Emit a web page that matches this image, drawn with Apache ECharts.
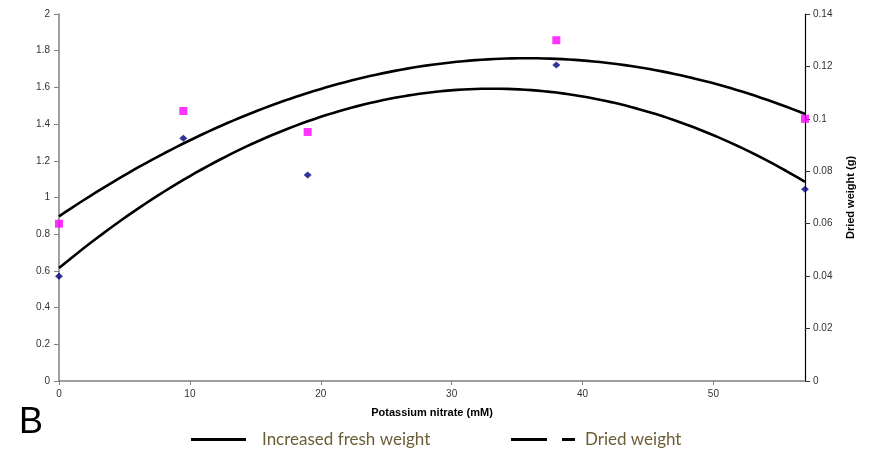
<!DOCTYPE html>
<html>
<head>
<meta charset="utf-8">
<script src="https://cdn.jsdelivr.net/npm/echarts@6/dist/echarts.min.js"></script>
<style>
  html, body { margin: 0; padding: 0; background: #fff; }
  #chart { width: 882px; height: 454px; }
</style>
</head>
<body>
<div id="chart"></div>
<script>
// Potassium nitrate concentrations (mM)
const nitrate = [0, 9.5, 19, 38, 57];
// Increased fresh weight (left axis)
const freshWeight = [0.571, 1.323, 1.123, 1.722, 1.045];
// Dried weight, g (right axis)
const driedWeight = [0.060, 0.103, 0.095, 0.130, 0.100];

const freshTicks = { min: 0, max: 2, interval: 0.2 };
const driedTicks = { min: 0, max: 0.14, interval: 0.02 };
const nitrateTicks = { min: 0, max: 57, interval: 10 };

// Least-squares second-order polynomial trendline
function quadFit(xs, ys) {
  let s = [0, 0, 0, 0, 0], t = [0, 0, 0];
  xs.forEach((x, i) => {
    let p = 1;
    for (let k = 0; k < 5; k++) { s[k] += p; if (k < 3) t[k] += p * ys[i]; p *= x; }
  });
  const A = [[s[0], s[1], s[2], t[0]], [s[1], s[2], s[3], t[1]], [s[2], s[3], s[4], t[2]]];
  for (let c = 0; c < 3; c++) {
    for (let r = c + 1; r < 3; r++) {
      const f = A[r][c] / A[c][c];
      for (let k = c; k < 4; k++) A[r][k] -= f * A[c][k];
    }
  }
  const b = [0, 0, 0];
  for (let r = 2; r >= 0; r--) {
    let v = A[r][3];
    for (let k = r + 1; k < 3; k++) v -= A[r][k] * b[k];
    b[r] = v / A[r][r];
  }
  return x => b[0] + b[1] * x + b[2] * x * x;
}
function trend(xs, ys) {
  const f = quadFit(xs, ys);
  const lo = xs[0], hi = xs[xs.length - 1];
  const out = [];
  for (let i = 0; i <= 120; i++) { const x = lo + (hi - lo) * i / 120; out.push([x, f(x)]); }
  return out;
}
const pairs = (xs, ys) => xs.map((x, i) => [x, ys[i]]);

const labelStyle = { color: '#333', fontFamily: 'Liberation Sans, Arial, sans-serif', fontSize: 10 };

const chart = echarts.init(document.getElementById('chart'), null, { renderer: 'canvas' });
chart.setOption({
  animation: false,
  backgroundColor: '#fff',
  grid: { left: 59, right: 77, top: 14, bottom: 73 },
  xAxis: {
    type: 'value', min: nitrateTicks.min, max: nitrateTicks.max, interval: nitrateTicks.interval,
    name: 'Potassium nitrate (mM)', nameLocation: 'middle', nameGap: 26,
    nameTextStyle: { color: '#000', fontFamily: 'Liberation Sans, Arial, sans-serif', fontSize: 11, fontWeight: 'bold' },
    axisLine: { lineStyle: { color: '#808080', width: 1.5 } },
    axisTick: { length: 4, lineStyle: { color: '#808080' } },
    axisLabel: Object.assign({ margin: 8, showMaxLabel: false }, labelStyle),
    splitLine: { show: false }
  },
  yAxis: [
    {
      type: 'value', position: 'left', min: freshTicks.min, max: freshTicks.max, interval: freshTicks.interval,
      axisLine: { show: true, lineStyle: { color: '#808080', width: 1.5 } },
      axisTick: { show: true, length: 5, lineStyle: { color: '#808080' } },
      axisLabel: Object.assign({ margin: 9, formatter: v => String(+v.toFixed(2)) }, labelStyle),
      splitLine: { show: false }
    },
    {
      type: 'value', position: 'right', min: driedTicks.min, max: driedTicks.max, interval: driedTicks.interval,
      name: 'Dried weight (g)', nameLocation: 'middle', nameRotate: 90, nameGap: 40,
      nameTextStyle: { color: '#000', fontFamily: 'Liberation Sans, Arial, sans-serif', fontSize: 11, fontWeight: 'bold', padding: [0, 0, 14, 0] },
      axisLine: { show: true, lineStyle: { color: '#000', width: 1.2 } },
      axisTick: { show: true, inside: false, length: 5, lineStyle: { color: '#333' } },
      axisLabel: Object.assign({ margin: 8, formatter: v => String(+v.toFixed(2)) }, labelStyle),
      splitLine: { show: false }
    }
  ],
  legend: [
    {
      left: 191, top: 431, padding: 0, itemWidth: 55, itemHeight: 3,
      data: [{ name: 'Increased fresh weight', icon: 'rect' }],
      textStyle: { color: '#6b5d35', fontFamily: 'Lato, sans-serif', fontSize: 17, padding: [0, 0, 0, 11] }
    },
    {
      left: 511, top: 431, padding: 0, itemWidth: 64, itemHeight: 3,
      data: [{ name: 'Dried weight', icon: 'path://M0,0H36V3H0Z M51,0H64V3H51Z' }],
      textStyle: { color: '#6b5d35', fontFamily: 'Lato, sans-serif', fontSize: 17, padding: [0, 0, 0, 5] }
    }
  ],
  graphic: [
    { type: 'text', left: 19, top: 405, style: { text: 'B', fontSize: 36, fontFamily: 'Liberation Sans, Arial, sans-serif', fill: '#000' } }
  ],
  series: [
    {
      name: 'Increased fresh weight', type: 'line', yAxisIndex: 0,
      data: trend(nitrate, freshWeight), showSymbol: false, smooth: false,
      lineStyle: { color: '#000', width: 2.6 }, itemStyle: { color: '#000' }, z: 2
    },
    {
      name: 'Dried weight', type: 'line', yAxisIndex: 1,
      data: trend(nitrate, driedWeight), showSymbol: false, smooth: false,
      lineStyle: { color: '#000', width: 2.6 }, itemStyle: { color: '#000' }, z: 2
    },
    {
      name: 'fresh points', type: 'scatter', yAxisIndex: 0,
      data: pairs(nitrate, freshWeight), symbol: 'diamond', symbolSize: [8, 7],
      itemStyle: { color: '#000080' }, z: 3
    },
    {
      name: 'dried points', type: 'scatter', yAxisIndex: 1,
      data: pairs(nitrate, driedWeight), symbol: 'rect', symbolSize: 8,
      itemStyle: { color: '#ff00ff' }, z: 3
    }
  ]
});
</script>
</body>
</html>
